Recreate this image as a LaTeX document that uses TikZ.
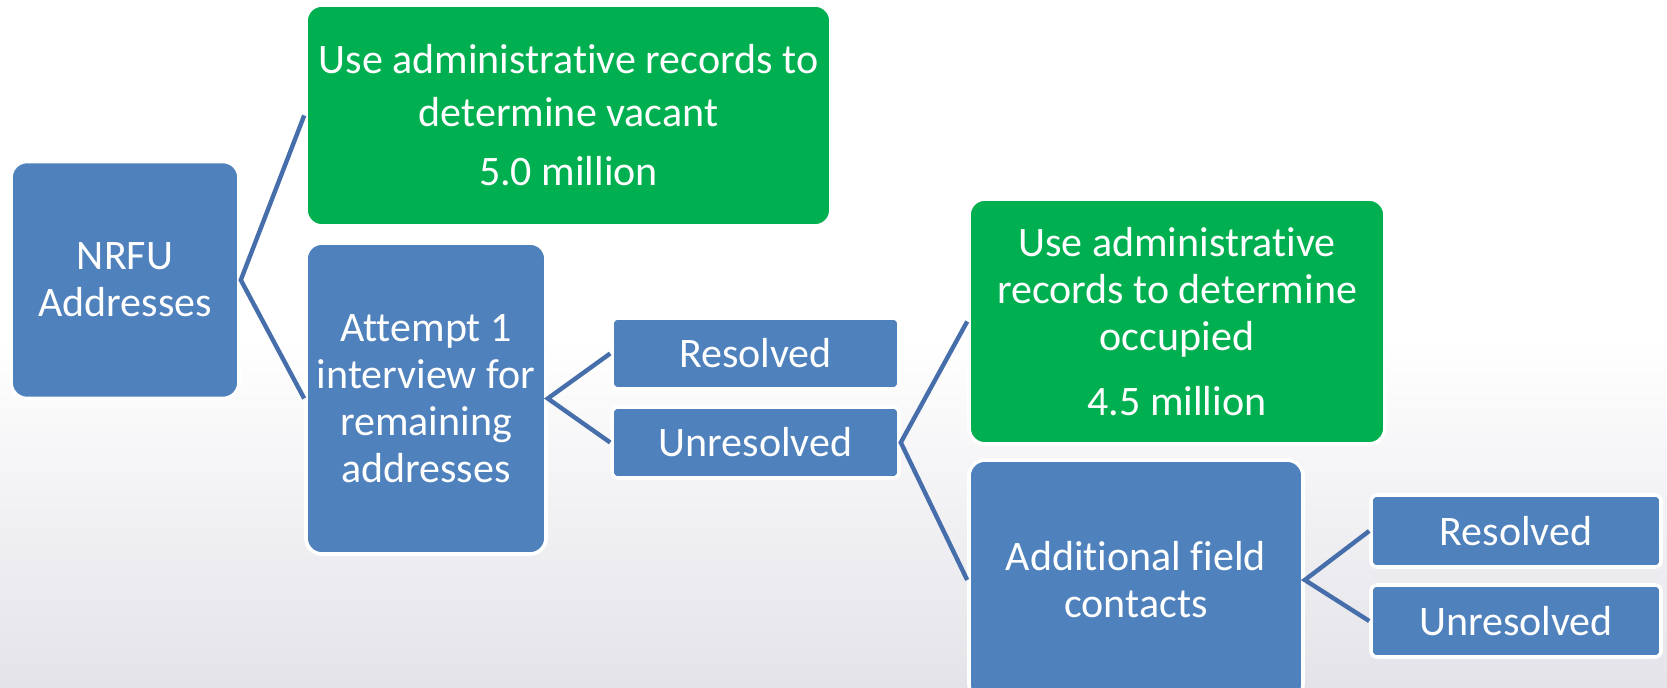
\documentclass[tikz,border=0pt]{standalone}
\usepackage{fontspec}
\setmainfont{Carlito}[Ligatures=NoCommon]
\usepackage{tikz}
\tikzset{font={\fontsize{21}{23.5}\selectfont}}
\definecolor{boxblue}{RGB}{79,129,189}
\definecolor{boxgreen}{RGB}{0,176,80}
\definecolor{linkblue}{RGB}{70,110,170}
\definecolor{bggray}{RGB}{227,227,233}
\tikzset{
  bluebox/.style={draw=white, line width=1.8pt, fill=boxblue, text=white,
    rounded corners=8pt, align=center, inner sep=0pt},
  greenbox/.style={bluebox, fill=boxgreen},
  smallbox/.style={bluebox, rounded corners=3pt},
  link/.style={draw=linkblue, line width=2.2pt}
}

\begin{document}
\begin{tikzpicture}[x=0.5pt,y=-0.5pt]
      %page
      \clip (0,0) rectangle (1667,688);
      \fill[white] (0,0) rectangle (1667,340);
      \shade[top color=white, bottom color=bggray] (0,340) rectangle (1667,688);
      %boxes
      \node[bluebox, minimum width=114pt, minimum height=118.5pt] (nrfu) at (125,280) {NRFU\\Addresses};
      \node[greenbox, minimum width=262.5pt, minimum height=110.5pt,
        font={\fontsize{21}{26.5}\selectfont}] (vacant) at (568.5,115.5)
        {Use administrative records to\\determine vacant\\[3pt]5.0 million};
      \node[bluebox, minimum width=120pt, minimum height=155.5pt] (attempt) at (426,398.5)
        {Attempt 1\\interview for\\remaining\\addresses};
      \node[smallbox, minimum width=143.5pt, minimum height=35.5pt] (res1) at (755.5,353.5) {Resolved};
      \node[smallbox, minimum width=143.5pt, minimum height=35.5pt] (unres1) at (755.5,442.5) {Unresolved};
      \node[greenbox, minimum width=208pt, minimum height=122.5pt] (occupied) at (1177,321.5)
        {Use administrative\\records to determine\\occupied\\[9pt]4.5 million};
      \node[bluebox, minimum width=167pt, minimum height=120pt] (addl) at (1136,580)
        {Additional field\\contacts};
      \node[smallbox, minimum width=145pt, minimum height=36pt] (res2) at (1516,531) {Resolved};
      \node[smallbox, minimum width=145pt, minimum height=36pt] (unres2) at (1516,621) {Unresolved};
      %lines
      \draw[link] (vacant.west) -- (nrfu.east) -- (attempt.west);
      \draw[link] (res1.west) -- (attempt.east) -- (unres1.west);
      \draw[link] (occupied.west) -- (unres1.east) -- (addl.west);
      \draw[link] (res2.west) -- (addl.east) -- (unres2.west);
    \end{tikzpicture}
\end{document}
